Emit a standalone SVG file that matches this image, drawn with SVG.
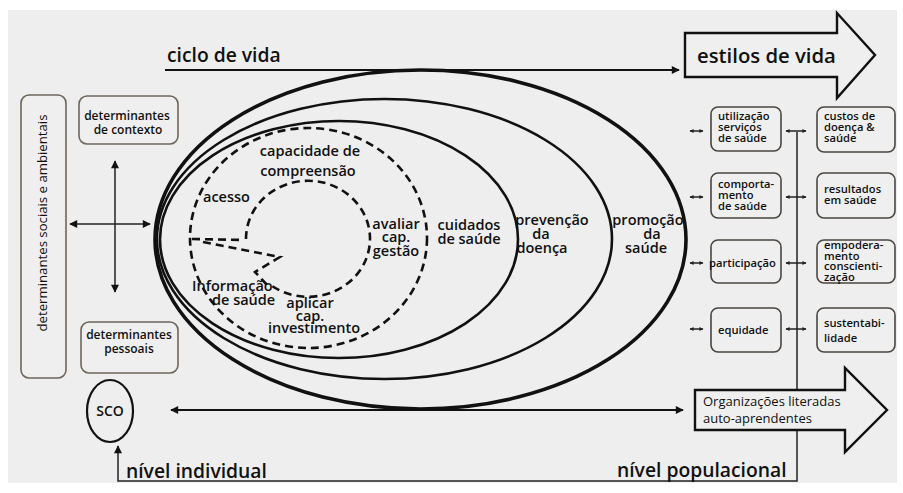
<svg xmlns="http://www.w3.org/2000/svg" width="903" height="493" viewBox="0 0 903 493">
<style>
  text { font-family: "Open Sans", "DejaVu Sans", sans-serif; fill: #111; }
  .big { font-size: 19.3px; font-weight: 600; }
  .lbl { font-size: 14.5px; font-weight: 600; }
  .box { fill: #efefef; stroke: #6e665c; stroke-width: 1.6; }
  .rbox { fill: #efefef; stroke: #4a4540; stroke-width: 1.6; }
  .bt { font-size: 12px; font-weight: 600; }
  .rt { font-size: 11.2px; font-weight: 600; }
  .solid { fill: none; stroke: #111; }
  .dash { fill: none; stroke: #111; stroke-width: 2.6; stroke-dasharray: 8 5; }
  .ln { fill: none; stroke: #111; stroke-width: 2.2; }
  .thin { fill: none; stroke: #222; stroke-width: 1.5; }
  .fat { fill: #efefef; stroke: #111; stroke-width: 2.4; stroke-linejoin: miter; }
</style>
<defs>
  <marker id="ah" viewBox="0 0 10 10" refX="9" refY="5" markerWidth="10" markerHeight="8" markerUnits="userSpaceOnUse" orient="auto-start-reverse">
    <path d="M0,0 L10,5 L0,10 z" fill="#111"/>
  </marker>
  <marker id="as" viewBox="0 0 10 10" refX="9" refY="5" markerWidth="5" markerHeight="4" markerUnits="userSpaceOnUse" orient="auto-start-reverse">
    <path d="M0,0 L10,5 L0,10 z" fill="#222"/>
  </marker>
</defs>
<rect x="8" y="10" width="889" height="473" fill="#eeeeee"/>

<g id="connectors">
  <line class="ln" x1="165" y1="70" x2="679" y2="70" marker-end="url(#ah)"/>
  <line class="ln" x1="171" y1="410" x2="683" y2="410" marker-start="url(#ah)" marker-end="url(#ah)"/>
  <line class="thin" x1="115" y1="161" x2="115" y2="292" marker-start="url(#ah)" marker-end="url(#ah)"/>
  <line class="thin" x1="70" y1="224" x2="150" y2="224" marker-start="url(#ah)" marker-end="url(#ah)"/>
  <path class="thin" d="M797,132 V481 H118 V446" marker-end="url(#ah)"/>
  <line class="thin" x1="690" y1="131" x2="703" y2="131" marker-start="url(#as)" marker-end="url(#as)"/>
  <line class="thin" x1="690" y1="197" x2="703" y2="197" marker-start="url(#as)" marker-end="url(#as)"/>
  <line class="thin" x1="690" y1="263" x2="703" y2="263" marker-start="url(#as)" marker-end="url(#as)"/>
  <line class="thin" x1="690" y1="329" x2="703" y2="329" marker-start="url(#as)" marker-end="url(#as)"/>
  <line class="thin" x1="786" y1="131" x2="806" y2="131" marker-start="url(#as)" marker-end="url(#as)"/>
  <line class="thin" x1="786" y1="197" x2="806" y2="197" marker-start="url(#as)" marker-end="url(#as)"/>
  <line class="thin" x1="786" y1="263" x2="806" y2="263" marker-start="url(#as)" marker-end="url(#as)"/>
  <line class="thin" x1="786" y1="329" x2="806" y2="329" marker-start="url(#as)" marker-end="url(#as)"/>
</g>

<g id="ellipse-promocao">
  <ellipse class="solid" cx="420.5" cy="239.5" rx="265.5" ry="169.5" stroke-width="3.6"/>
  <text class="lbl" text-anchor="middle"><tspan x="648" y="225">promoção</tspan><tspan x="652" y="239">da</tspan><tspan x="646" y="253">saúde</tspan></text>
</g>
<g id="ellipse-prevencao">
  <ellipse class="solid" cx="384.5" cy="239" rx="227.5" ry="140" stroke-width="2.6"/>
  <text class="lbl" text-anchor="middle"><tspan x="552" y="225">prevenção</tspan><tspan x="541" y="239">da</tspan><tspan x="542" y="253">doença</tspan></text>
</g>
<g id="ellipse-cuidados">
  <ellipse class="solid" cx="339" cy="239.5" rx="179" ry="118.5" stroke-width="2.6"/>
  <text class="lbl" text-anchor="middle"><tspan x="469" y="230">cuidados</tspan><tspan x="469" y="244">de saúde</tspan></text>
</g>
<g id="dashed-literacy">
  <ellipse class="dash" cx="308.5" cy="238" rx="118.5" ry="110"/>
  <path class="dash" d="M246,239 A62,58 0 1 1 272,286"/>
  <path class="dash" d="M192,239 L243,240"/>
  <path class="dash" d="M203,242 L280,257 L255,272 L268,286"/>
  <text class="lbl" text-anchor="middle"><tspan x="310" y="156">capacidade de</tspan><tspan x="308" y="176">compreensão</tspan></text>
  <text class="lbl" x="203" y="202">acesso</text>
  <text class="lbl" text-anchor="middle"><tspan x="396" y="229">avaliar</tspan><tspan x="396" y="242">cap.</tspan><tspan x="396" y="256">gestão</tspan></text>
  <text class="lbl"><tspan x="192" y="291">Informação</tspan><tspan x="212" y="305">de saúde</tspan></text>
  <text class="lbl" text-anchor="middle"><tspan x="310" y="308">aplicar</tspan><tspan x="310" y="321">cap.</tspan><tspan x="314" y="333">investimento</tspan></text>
</g>

<g id="label-ciclo"><text class="big" x="167" y="62">ciclo de vida</text></g>

<g id="arrow-estilos">
  <polygon class="fat" points="685,33 837,33 837,13 875,55 837,98 837,77 685,77"/>
  <text x="697" y="63" font-size="20.3" font-weight="600">estilos de vida</text>
</g>

<g id="arrow-organizacoes">
  <polygon class="fat" points="695,390 845,390 845,368 887,410 845,452 845,430 695,430"/>
  <text font-size="13"><tspan x="703" y="406">Organizações literadas</tspan><tspan x="703" y="423">auto-aprendentes</tspan></text>
</g>

<g id="box-sociais">
  <rect class="box" x="21" y="95" width="45" height="283" rx="8"/>
  <text font-size="13.2" text-anchor="middle" transform="translate(47,223) rotate(-90)">determinantes sociais e ambientais</text>
</g>
<g id="box-contexto">
  <rect class="box" x="79" y="96" width="99" height="48" rx="8"/>
  <text class="bt" text-anchor="middle"><tspan x="127" y="120">determinantes</tspan><tspan x="128" y="134">de contexto</tspan></text>
</g>
<g id="box-pessoais">
  <rect class="box" x="81" y="322" width="97" height="51" rx="8"/>
  <text class="bt" text-anchor="middle"><tspan x="129" y="339">determinantes</tspan><tspan x="129" y="353">pessoais</tspan></text>
</g>
<g id="node-sco">
  <ellipse cx="110" cy="411" rx="23" ry="31" fill="none" stroke="#111" stroke-width="2.2"/>
  <text x="110" y="416" font-size="14" font-weight="600" text-anchor="middle">SCO</text>
</g>

<g id="label-individual"><text class="big" x="126" y="478">nível individual</text></g>
<g id="label-populacional"><text class="big" x="617" y="477">nível populacional</text></g>

<g id="box-utilizacao">
  <rect class="rbox" x="711" y="107" width="70" height="44" rx="7"/>
  <text class="rt"><tspan x="718" y="120">utilização</tspan><tspan x="718" y="131">serviços</tspan><tspan x="718" y="142">de saúde</tspan></text>
</g>
<g id="box-comportamento">
  <rect class="rbox" x="711" y="173" width="70" height="45" rx="7"/>
  <text class="rt"><tspan x="718" y="188">comporta-</tspan><tspan x="718" y="199">mento</tspan><tspan x="718" y="210">de saúde</tspan></text>
</g>
<g id="box-participacao">
  <rect class="rbox" x="711" y="240" width="70" height="43" rx="7"/>
  <text class="rt" x="709" y="267" font-size="12">participação</text>
</g>
<g id="box-equidade">
  <rect class="rbox" x="711" y="308" width="70" height="44" rx="7"/>
  <text class="rt" x="718" y="334" font-size="12">equidade</text>
</g>
<g id="box-custos">
  <rect class="rbox" x="817" y="107" width="78" height="45" rx="7"/>
  <text class="rt"><tspan x="824" y="120">custos de</tspan><tspan x="824" y="131">doença &amp;</tspan><tspan x="824" y="142">saúde</tspan></text>
</g>
<g id="box-resultados">
  <rect class="rbox" x="817" y="173" width="78" height="45" rx="7"/>
  <text class="rt"><tspan x="824" y="193">resultados</tspan><tspan x="824" y="204">em saúde</tspan></text>
</g>
<g id="box-empoderamento">
  <rect class="rbox" x="817" y="240" width="78" height="43" rx="7"/>
  <text class="rt"><tspan x="824" y="249">empodera-</tspan><tspan x="824" y="259.5">mento</tspan><tspan x="824" y="270">conscienti-</tspan><tspan x="824" y="280.5">zação</tspan></text>
</g>
<g id="box-sustentabilidade">
  <rect class="rbox" x="817" y="308" width="78" height="44" rx="7"/>
  <text class="rt" font-size="12"><tspan x="824" y="327">sustentabi-</tspan><tspan x="824" y="342">lidade</tspan></text>
</g>
</svg>
